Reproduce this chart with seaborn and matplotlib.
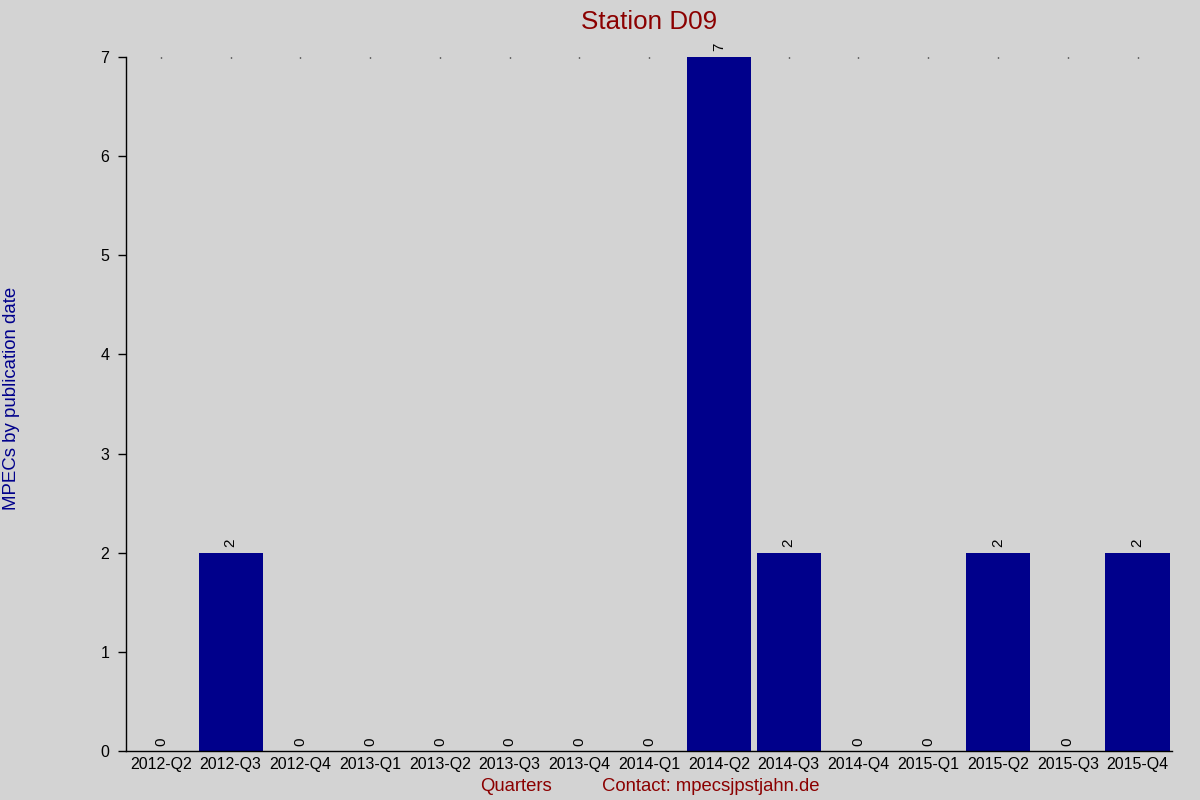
import matplotlib
matplotlib.use("Agg")
import matplotlib.pyplot as plt
import seaborn as sns
import pandas as pd

quarters = ["2012-Q2", "2012-Q3", "2012-Q4", "2013-Q1", "2013-Q2", "2013-Q3",
            "2013-Q4", "2014-Q1", "2014-Q2", "2014-Q3", "2014-Q4", "2015-Q1",
            "2015-Q2", "2015-Q3", "2015-Q4"]
counts = [0, 2, 0, 0, 0, 0, 0, 0, 7, 2, 0, 0, 2, 0, 2]

title = "Station D09"
xlabel = "Quarters"
contact = "Contact: mpecsjpstjahn.de"
ylabel = "MPECs by publication date"

bg = "#d3d3d3"
sns.set_theme(style="ticks")
plt.rcParams["font.family"] = ["Liberation Sans", "DejaVu Sans"]

df = pd.DataFrame({"quarter": quarters, "count": counts})

fig = plt.figure(figsize=(12, 8), dpi=100, facecolor=bg)
ax = fig.add_axes([0.105, 0.061, 0.872, 0.868])
ax.set_facecolor(bg)

sns.barplot(data=df, x="quarter", y="count", color="#00008b", saturation=1,
            width=0.92, linewidth=0, edgecolor="none", ax=ax)

for p, v in zip(ax.patches, counts):
    ax.annotate(str(v), (p.get_x() + p.get_width() / 2, p.get_height()),
                xytext=(0, 4), textcoords="offset points", rotation=90,
                ha="center", va="bottom", fontsize=11, color="black")

ax.set_ylim(0, 7)
ax.set_xlim(-0.5, len(quarters) - 0.5)
ax.set_yticks(range(0, 8))
ax.tick_params(axis="y", direction="out", length=6, width=1, labelsize=11.5,
               colors="black", pad=6)
ax.tick_params(axis="x", bottom=False, top=True, direction="in", length=1,
               width=1, labelsize=11.5, pad=4, colors="black")
ax.tick_params(axis="x", labeltop=False)

for s in ["top", "right"]:
    ax.spines[s].set_visible(False)
for s in ["left", "bottom"]:
    ax.spines[s].set_color("black")
    ax.spines[s].set_linewidth(1)

ax.set_xlabel("")
ax.set_ylabel("")

fig.text(0.541, 0.972, title, ha="center", va="center", fontsize=18.7,
         color="#8b0000")
fig.text(0.43, 0.017, xlabel, ha="center", va="center", fontsize=13.3,
         color="#8b0000")
fig.text(0.592, 0.017, contact, ha="center", va="center", fontsize=13.3,
         color="#8b0000")
fig.text(0.0095, 0.502, ylabel, ha="center", va="center", rotation=90,
         fontsize=13.4, color="#00008b")

fig.savefig("out.png", dpi=100, facecolor=bg)
